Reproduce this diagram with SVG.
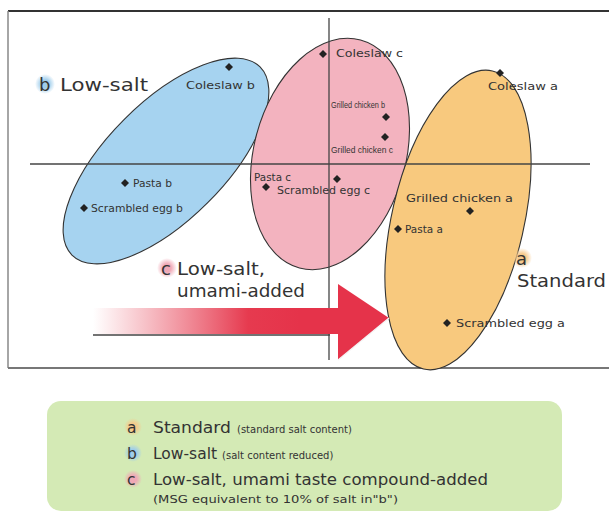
<svg xmlns="http://www.w3.org/2000/svg" width="609" height="516" viewBox="0 0 609 516">
<style>
.lbl{font-family:"DejaVu Sans","Liberation Sans",sans-serif;font-size:11px;fill:#333}
.cond{font-family:"Liberation Sans Narrow","Liberation Sans",sans-serif;font-size:9.5px;fill:#333}
.big{font-family:"DejaVu Sans","Liberation Sans",sans-serif;font-size:18px;fill:#333}
.leg{font-family:"DejaVu Sans","Liberation Sans",sans-serif;font-size:15.5px;fill:#333}
.legs{font-family:"DejaVu Sans","Liberation Sans",sans-serif;font-size:10px;fill:#333}
.ell{stroke:#333;stroke-width:1.1}
.axis{stroke:#444;stroke-width:1.3;fill:none}
.pt{fill:#222}
</style>
<defs>
<linearGradient id="arrowGrad" gradientUnits="userSpaceOnUse" x1="93" y1="0" x2="300" y2="0">
<stop offset="0" stop-color="#ffffff" stop-opacity="0.9"/>
<stop offset="0.75" stop-color="#e63a4f"/>
<stop offset="1" stop-color="#e5334a"/>
</linearGradient>
<radialGradient id="gA"><stop offset="0.4" stop-color="#f6c98a"/><stop offset="1" stop-color="#f6c98a" stop-opacity="0"/></radialGradient>
<radialGradient id="gB"><stop offset="0.4" stop-color="#9fcdeb"/><stop offset="1" stop-color="#9fcdeb" stop-opacity="0"/></radialGradient>
<radialGradient id="gC"><stop offset="0.4" stop-color="#f0a8b6"/><stop offset="1" stop-color="#f0a8b6" stop-opacity="0"/></radialGradient>
<path id="dia" d="M0,-4 L4,0 L0,4 L-4,0 Z"/>
</defs>
<rect x="0" y="0" width="609" height="516" fill="#ffffff"/>

<g id="frame">
<line x1="8" y1="11" x2="609" y2="11" stroke="#333" stroke-width="1.8"/>
<line x1="8" y1="11" x2="8" y2="368" stroke="#888" stroke-width="1.5"/>
<line x1="8" y1="368" x2="609" y2="368" stroke="#777" stroke-width="2"/>
</g>

<g id="group-b">
<ellipse class="ell" cx="166" cy="161" rx="133" ry="59" transform="rotate(-45 166 161)" fill="#a6d3f0"/>
</g>
<g id="group-c">
<ellipse class="ell" cx="330" cy="154" rx="76" ry="118" transform="rotate(15 330 154)" fill="#f3b3bf"/>
</g>
<g id="group-a">
<ellipse class="ell" cx="458" cy="220" rx="66" ry="153" transform="rotate(13 458 220)" fill="#f8c97e"/>
</g>

<g id="connectors">
<line class="axis" x1="30" y1="164" x2="590" y2="164"/>
<line class="axis" x1="329" y1="18" x2="329" y2="360"/>
<line class="axis" x1="93" y1="335" x2="330" y2="335"/>
<polygon points="93,308 338,308 338,284 389,318 338,360 338,334 93,334" fill="url(#arrowGrad)"/>
<line x1="389" y1="318" x2="338" y2="360" stroke="#f4f4f4" stroke-width="1.2"/>
</g>

<g id="points">
<use href="#dia" class="pt" x="229" y="67"/>
<use href="#dia" class="pt" x="323" y="54"/>
<use href="#dia" class="pt" x="500" y="73"/>
<use href="#dia" class="pt" x="386" y="117"/>
<use href="#dia" class="pt" x="385" y="137"/>
<use href="#dia" class="pt" x="266" y="187"/>
<use href="#dia" class="pt" x="337" y="179"/>
<use href="#dia" class="pt" x="125" y="183"/>
<use href="#dia" class="pt" x="84" y="208"/>
<use href="#dia" class="pt" x="470" y="211"/>
<use href="#dia" class="pt" x="398" y="229"/>
<use href="#dia" class="pt" x="447" y="323"/>
</g>

<g id="point-labels">
<text class="lbl" x="186" y="89" textLength="69" lengthAdjust="spacingAndGlyphs">Coleslaw b</text>
<text class="lbl" x="336" y="57" textLength="67" lengthAdjust="spacingAndGlyphs">Coleslaw c</text>
<text class="lbl" x="488" y="90" textLength="70" lengthAdjust="spacingAndGlyphs">Coleslaw a</text>
<text class="cond" x="331" y="108" textLength="54" lengthAdjust="spacingAndGlyphs">Grilled chicken b</text>
<text class="cond" x="331" y="153" textLength="62" lengthAdjust="spacingAndGlyphs">Grilled chicken c</text>
<text class="lbl" x="254" y="181" textLength="37" lengthAdjust="spacingAndGlyphs">Pasta c</text>
<text class="lbl" x="277" y="194" textLength="93" lengthAdjust="spacingAndGlyphs">Scrambled egg c</text>
<text class="lbl" x="133" y="187" textLength="39" lengthAdjust="spacingAndGlyphs">Pasta b</text>
<text class="lbl" x="91" y="212" textLength="92" lengthAdjust="spacingAndGlyphs">Scrambled egg b</text>
<text class="lbl" x="406" y="202" textLength="107" lengthAdjust="spacingAndGlyphs">Grilled chicken a</text>
<text class="lbl" x="405" y="233" textLength="38" lengthAdjust="spacingAndGlyphs">Pasta a</text>
<text class="lbl" x="456" y="327" textLength="109" lengthAdjust="spacingAndGlyphs">Scrambled egg a</text>
</g>

<g id="label-b">
<circle cx="45" cy="84" r="10" fill="url(#gB)"/>
<text class="big" x="39" y="91">b</text>
<text class="big" x="60" y="91" textLength="88" lengthAdjust="spacingAndGlyphs">Low-salt</text>
</g>
<g id="label-c">
<circle cx="167" cy="268" r="10" fill="url(#gC)"/>
<text class="big" x="161" y="275">c</text>
<text class="big" x="177" y="275" textLength="88" lengthAdjust="spacingAndGlyphs">Low-salt,</text>
<text class="big" x="177" y="297" textLength="128" lengthAdjust="spacingAndGlyphs">umami-added</text>
</g>
<g id="label-a">
<circle cx="522" cy="258" r="10" fill="url(#gA)"/>
<text class="big" x="516" y="265">a</text>
<text class="big" x="517" y="287" textLength="89" lengthAdjust="spacingAndGlyphs">Standard</text>
</g>

<g id="legend">
<rect x="47" y="401" width="515" height="110" rx="14" fill="#d4eab5"/>
<circle cx="133" cy="427" r="9" fill="url(#gA)"/>
<text class="leg" x="127" y="433">a</text>
<text class="leg" x="153" y="433"><tspan textLength="78" lengthAdjust="spacingAndGlyphs">Standard</tspan><tspan class="legs" dx="6">(standard salt content)</tspan></text>
<circle cx="133" cy="453" r="9" fill="url(#gB)"/>
<text class="leg" x="127" y="459">b</text>
<text class="leg" x="153" y="459"><tspan>Low-salt</tspan><tspan class="legs" dx="5">(salt content reduced)</tspan></text>
<circle cx="133" cy="479" r="9" fill="url(#gC)"/>
<text class="leg" x="127" y="485">c</text>
<text class="leg" x="153" y="485" textLength="335" lengthAdjust="spacingAndGlyphs">Low-salt, umami taste compound-added</text>
<text class="legs" x="153" y="503" textLength="245" lengthAdjust="spacingAndGlyphs">(MSG equivalent to 10% of salt in"b")</text>
</g>
</svg>
